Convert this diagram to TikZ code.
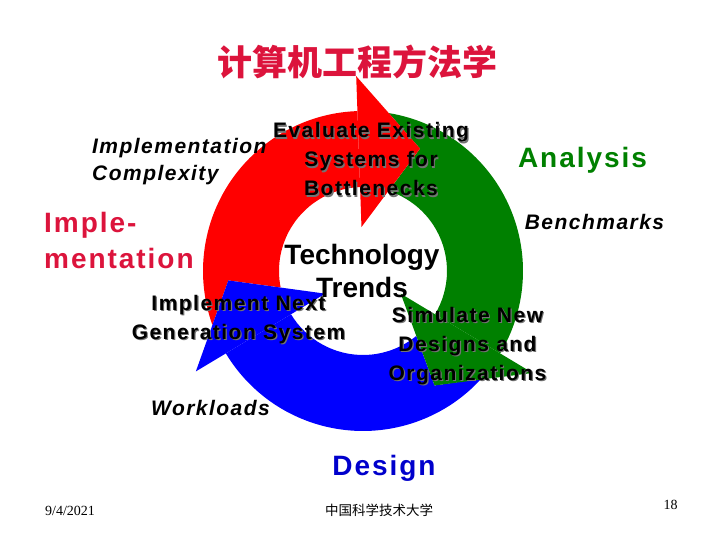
\documentclass[tikz,border=0pt]{standalone}
\usepackage{fontspec}
\setmainfont{Liberation Sans}
\newfontfamily\spc[LetterSpace=7]{Liberation Sans}
\newfontfamily\cjk{Noto Sans CJK SC}
\newfontfamily\tms{Liberation Serif}
\usepackage{xcolor}
\usepackage{tikz}

\definecolor{crimson}{RGB}{220,20,60}
\definecolor{arrred}{RGB}{255,0,0}
\definecolor{arrgreen}{RGB}{0,128,0}
\definecolor{arrblue}{RGB}{0,0,255}
\definecolor{dsgnblue}{RGB}{0,0,204}

\tikzset{
    small/.style={font=\spc\bfseries\fontsize{21}{29}\selectfont, inner sep=0pt, align=center},
    smallit/.style={font=\spc\bfseries\itshape\fontsize{21}{27}\selectfont, inner sep=0pt, align=left},
    big/.style={font=\spc\bfseries\fontsize{28}{36}\selectfont, inner sep=0pt, align=left},
    foot/.style={font=\tms\fontsize{14}{14}\selectfont, inner sep=0pt}
}

\newcommand{\shadownode}[3]{%
    \node[small, text=black!55, xshift=1.2pt, yshift=-1.2pt] (#1sh) at (#2) {#3};
    \node[small] (#1) at (#2) {#3};}

\begin{document}
\begin{tikzpicture}[x=1pt, y=1pt]
        \useasboundingbox (0, 0) rectangle (720, 540);

        \node[font=\cjk\bfseries\fontsize{35}{35}\selectfont, text=crimson] (title) at (357, 478) {计算机工程方法学};

        \begin{scope}[shift={(363, 269)}]
        % bands
        \fill[arrred] (184:135) -- (199.7:160) arc[start angle=199.7, end angle=92, radius=160]
            -- (92:84) arc[start angle=92, end angle=191.3, radius=84] -- cycle;
        \fill[arrgreen] (65:135) -- (80.7:160) arc[start angle=80.7, end angle=-31, radius=160]
            -- (-31:84) arc[start angle=-31, end angle=72.3, radius=84] -- cycle;
        \fill[arrblue] (-58:135) -- (-42.3:160) arc[start angle=-42.3, end angle=-149, radius=160]
            -- (-149:84) arc[start angle=-149, end angle=-50.7, radius=84] -- cycle;
        % heads
        \fill[arrred] (92:44) -- (92:195) -- (65:135) -- cycle;
        \fill[arrgreen] (-31:44) -- (-31:198) -- (-58:135) -- cycle;
        \fill[arrblue] (211:44) -- (211:195) -- (184:135) -- cycle;
        \end{scope}

        \node[smallit, anchor=west] (complexity) at (92, 378.5) {Implementation\\Complexity};
        \shadownode{evalsys}{371, 380.5}{Evaluate Existing\\Systems for\\Bottlenecks}
        \node[big, text=arrgreen] (analysis) at (582.5, 380) {Analysis};
        \node[big, text=crimson, anchor=west] (impl) at (44, 300) {Imple-\\mentation};
        \node[smallit] (bench) at (594.5, 318) {Benchmarks};
        \node[font=\bfseries\fontsize{28}{33}\selectfont, align=center, inner sep=0pt] (tech) at (362, 269.5) {Technology\\Trends};
        \shadownode{implnext}{238.5, 220.5}{Implement Next\\Generation System}
        \shadownode{simnew}{467.5, 194}{Simulate New\\Designs and\\Organizations}
        \node[smallit] (work) at (210.5, 132) {Workloads};
        \node[big, text=dsgnblue] (design) at (384, 72) {Design};

        \node[foot] (date) at (70, 29) {9/4/2021};
        \node[font=\cjk\fontsize{13.5}{14}\selectfont, inner sep=0pt] (univ) at (379, 30) {中国科学技术大学};
        \node[foot] (page) at (670.5, 35) {18};
\end{tikzpicture}
\end{document}
